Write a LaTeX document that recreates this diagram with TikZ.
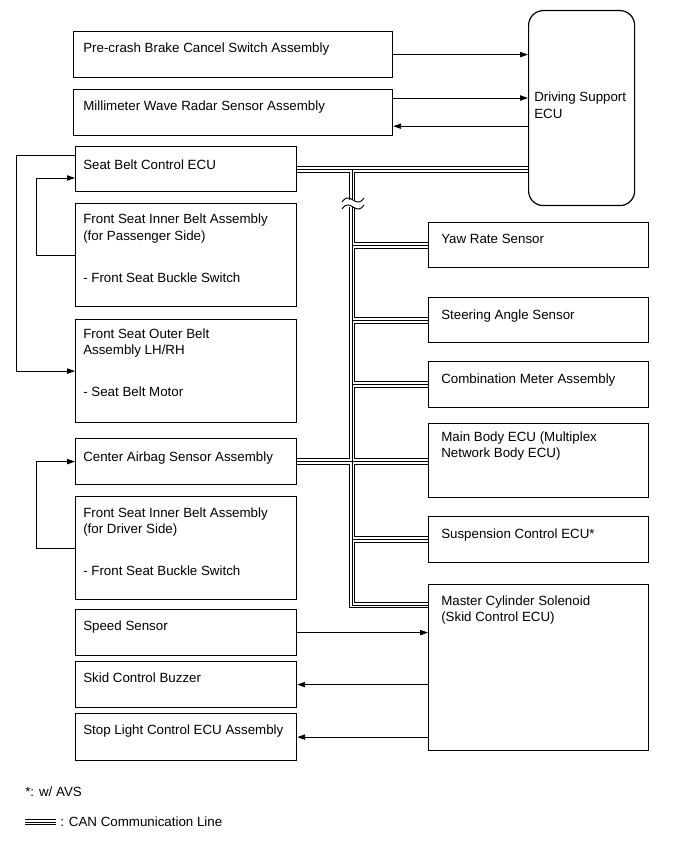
\documentclass[tikz,border=0pt]{standalone}
\usepackage{fontspec}
\setmainfont{Liberation Sans}
\usetikzlibrary{arrows.meta}
\newdimen\pxu \pxu=0.75pt
\newcommand{\toplines}[1]{\begin{tabular}[t]{@{}l@{}}#1\end{tabular}}

\begin{document}
\begin{tikzpicture}[x=0.75pt,y=-0.75pt,font=\fontsize{10}{12.4}\selectfont,
  >={Triangle[length=6pt,width=4pt]},
  box/.style={draw,line width=0.9pt,anchor=north west,inner sep=0pt},
  lbl/.style={anchor=base west,inner sep=0pt},
  sig/.style={line width=0.7pt},
  can/.style={line width=5.2pt,postaction={draw=white,line width=3.7pt},postaction={draw=black,line width=0.7pt}}]
  \useasboundingbox (0,0) rectangle (691,855);
  % ECU
  \node[box,rounded corners=11pt,minimum width=106\pxu,minimum height=195\pxu] (dsecu) at (528,10) {};
  \node[lbl] (dsecu-t) at ([shift={(6,92)}]dsecu.north west) {\toplines{Driving Support\\ECU}};
  % linke Spalte
  \node[box,minimum width=319\pxu,minimum height=46\pxu] (pcb) at (73,31) {};
  \node[lbl] (pcb-t) at ([shift={(10,22)}]pcb.north west) {Pre-crash Brake Cancel Switch Assembly};
  \node[box,minimum width=319\pxu,minimum height=46\pxu] (mwr) at (73,89) {};
  \node[lbl] (mwr-t) at ([shift={(10,22)}]mwr.north west) {Millimeter Wave Radar Sensor Assembly};
  \node[box,minimum width=221\pxu,minimum height=45\pxu] (sbecu) at (75,146) {};
  \node[lbl] (sbecu-t) at ([shift={(8,24)}]sbecu.north west) {Seat Belt Control ECU};
  \node[box,minimum width=221\pxu,minimum height=103\pxu] (fsip) at (75,203) {};
  \node[lbl] (fsip-t) at ([shift={(8,21)}]fsip.north west) {\toplines{Front Seat Inner Belt Assembly\\(for Passenger Side)\\[19pt]- Front Seat Buckle Switch}};
  \node[box,minimum width=221\pxu,minimum height=103\pxu] (fsob) at (75,319) {};
  \node[lbl] (fsob-t) at ([shift={(8,19)}]fsob.north west) {\toplines{Front Seat Outer Belt\\Assembly LH/RH\\[19pt]- Seat Belt Motor}};
  \node[box,minimum width=221\pxu,minimum height=46\pxu] (cab) at (75,438) {};
  \node[lbl] (cab-t) at ([shift={(8,23)}]cab.north west) {Center Airbag Sensor Assembly};
  \node[box,minimum width=221\pxu,minimum height=103\pxu] (fsid) at (75,496) {};
  \node[lbl] (fsid-t) at ([shift={(8,21)}]fsid.north west) {\toplines{Front Seat Inner Belt Assembly\\(for Driver Side)\\[19pt]- Front Seat Buckle Switch}};
  \node[box,minimum width=221\pxu,minimum height=46\pxu] (ss) at (75,609) {};
  \node[lbl] (ss-t) at ([shift={(8,21)}]ss.north west) {Speed Sensor};
  \node[box,minimum width=221\pxu,minimum height=46\pxu] (scb) at (75,661) {};
  \node[lbl] (scb-t) at ([shift={(8,21)}]scb.north west) {Skid Control Buzzer};
  \node[box,minimum width=221\pxu,minimum height=47\pxu] (slc) at (75,713) {};
  \node[lbl] (slc-t) at ([shift={(8,21)}]slc.north west) {Stop Light Control ECU Assembly};
  % rechte Spalte
  \node[box,minimum width=220\pxu,minimum height=45\pxu] (yaw) at (428,222) {};
  \node[lbl] (yaw-t) at ([shift={(13,22)}]yaw.north west) {Yaw Rate Sensor};
  \node[box,minimum width=220\pxu,minimum height=45\pxu] (sas) at (428,297) {};
  \node[lbl] (sas-t) at ([shift={(13,22)}]sas.north west) {Steering Angle Sensor};
  \node[box,minimum width=220\pxu,minimum height=46\pxu] (cma) at (428,361) {};
  \node[lbl] (cma-t) at ([shift={(13,22)}]cma.north west) {Combination Meter Assembly};
  \node[box,minimum width=220\pxu,minimum height=74\pxu] (mbe) at (428,423) {};
  \node[lbl] (mbe-t) at ([shift={(13,18)}]mbe.north west) {\toplines{Main Body ECU (Multiplex\\Network Body ECU)}};
  \node[box,minimum width=220\pxu,minimum height=46\pxu] (scu) at (428,516) {};
  \node[lbl] (scu-t) at ([shift={(13,22)}]scu.north west) {Suspension Control ECU*};
  \node[box,minimum width=220\pxu,minimum height=166\pxu] (mcs) at (428,584) {};
  \node[lbl] (mcs-t) at ([shift={(13,21)}]mcs.north west) {\toplines{Master Cylinder Solenoid\\(Skid Control ECU)}};
  % CAN
  \coordinate (busx) at (352,605);
  \draw[can] (sbecu.east) -- (sbecu.east -| dsecu.west)
    (sbecu.east -| busx) -- (busx) -- (busx -| mcs.west)
    (yaw.west -| busx) -- (yaw.west)
    (sas.west -| busx) -- (sas.west)
    (cma.west -| busx) -- (cma.west)
    (cab.east) -- (cab.east -| mbe.west)
    (scu.west -| busx) -- (scu.west);
  \fill[white] (343,200.5) rectangle (362,207);
  \draw[sig] (342,202) .. controls (345,197) and (349,197) .. (353,200) .. controls (357,203) and (361,203) .. (364,198);
  \draw[sig] (342,209) .. controls (345,204) and (349,204) .. (353,207) .. controls (357,210) and (361,210) .. (364,205);
  % Signale
  \coordinate (mwr-o) at ([shift={(0,9)}]mwr.north east);
  \coordinate (mwr-i) at ([shift={(0,-10)}]mwr.south east);
  \draw[sig,->] (pcb.east) -- (pcb.east -| dsecu.west);
  \draw[sig,->] (mwr-o) -- (mwr-o -| dsecu.west);
  \draw[sig,<-] (mwr-i) -- (mwr-i -| dsecu.west);
  \draw[sig,->] ([shift={(0,9)}]sbecu.north west) -- ++(-59,0) |- (fsob.west);
  \draw[sig,->] (fsip.west) -- ++(-39,0) |- ([shift={(0,32)}]sbecu.north west);
  \draw[sig,->] (fsid.west) -- ++(-39,0) |- (cab.west);
  \draw[sig,->] (ss.east) -- (ss.east -| mcs.west);
  \draw[sig,<-] (scb.east) -- (scb.east -| mcs.west);
  \draw[sig,<-] (slc.east) -- (slc.east -| mcs.west);
  % Legende
  \node[lbl] (avs) at (25,796) {*: w/ AVS};
  \coordinate (leg-a) at (25,822);
  \coordinate (leg-b) at (56,822);
  \draw[can] (leg-a) -- (leg-b);
  \node[lbl] (can-t) at (60,826) {: CAN Communication Line};
\end{tikzpicture}
\end{document}
